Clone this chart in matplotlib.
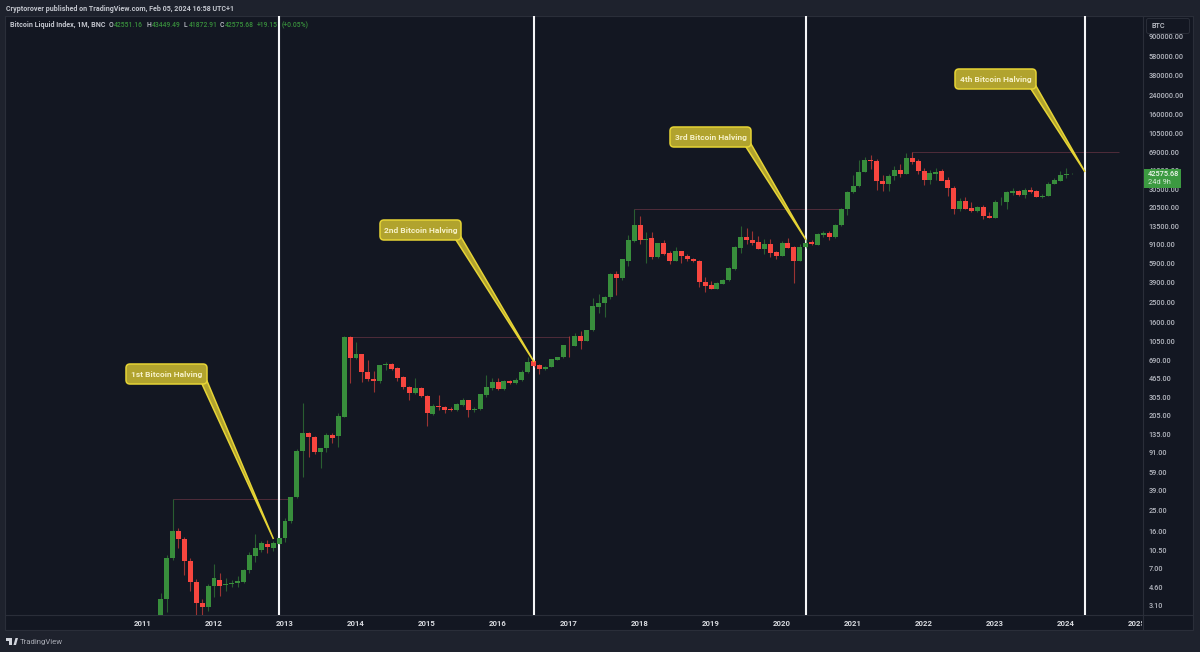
import numpy as np
import matplotlib
matplotlib.use("Agg")
import matplotlib.pyplot as plt
from matplotlib.patches import FancyBboxPatch, Polygon, Rectangle
from matplotlib.transforms import Bbox

plt.rcParams["font.family"] = ["Roboto", "DejaVu Sans"]

# monthly candles, Apr 2011 to Feb 2024
opens = [0.8, 3.5, 8.7, 16.0, 13.3, 8.2, 5.15, 3.25, 2.95,
         4.74, 5.4, 4.85, 4.95, 5.0, 5.15, 6.7, 9.2, 10.4, 12.0, 10.9, 12.0,
         13.5, 20, 33.5, 93, 139, 128, 91, 100, 131, 129, 199, 1163,
         732, 794, 537, 457, 441, 620, 636, 583, 474, 385, 333, 372,
         314, 211, 254, 244, 237, 229, 257, 285, 229, 237, 320, 375,
         430, 368, 437, 415, 448, 530, 676, 621, 565, 600, 700, 735,
         965, 948, 1183, 1059, 1340, 2259, 2432, 2790, 4656, 4227, 6252, 9700,
         13740, 9950, 10230, 6725, 9160, 7400, 6250, 7650, 6950, 6500, 6250, 3930,
         3640, 3340, 3755, 4050, 5180, 8300, 10620, 9860, 9500, 8090, 9100, 7560,
         6980, 9300, 8450, 6250, 8360, 9440, 8830, 11020, 11510, 10470, 13600, 19450,
         28300, 32300, 44670, 57800, 57000, 36640, 34300, 40600, 46350, 42730, 60400, 56500,
         45300, 37400, 42450, 45000, 37150, 31400, 19450, 23400, 19860, 18760, 20200, 16900,
         16180, 22700, 22700, 28100, 28900, 26700, 29800, 29200, 25350, 26100, 33800, 36640,
         41800, 42551.16]
highs = [4.06, 9.4, 32, 16.8, 14, 8.7, 5.5, 3.5, 4.9,
         7.6, 6.3, 5.6, 5.4, 5.9, 6.9, 9.9, 15, 12.8, 13, 12.6, 13.7,
         21, 34, 97, 266, 140, 129, 100, 137, 137, 215, 1170, 1170,
         1029, 800, 695, 540, 623, 665, 650, 600, 490, 390, 470, 380,
         320, 265, 320, 250, 245, 270, 300, 290, 245, 330, 500, 470,
         465, 445, 445, 465, 555, 748, 690, 630, 610, 715, 750, 972,
         1183, 1250, 1312, 1360, 2716, 2970, 2850, 4700, 4950, 6500, 11100, 19590,
         16750, 11700, 11700, 9300, 9860, 7800, 8430, 7750, 7300, 6600, 6320, 4300,
         4000, 3900, 4120, 5400, 8600, 13550, 12880, 11950, 10800, 10100, 10000, 7780,
         9600, 10370, 8700, 8950, 10000, 9800, 11430, 12130, 12000, 13950, 19800, 29000,
         41500, 57500, 61700, 64800, 59500, 41000, 42500, 50500, 52900, 67000, 69000, 59100,
         47900, 45800, 48200, 47400, 40000, 32400, 24700, 25200, 22700, 21000, 21400, 18300,
         23900, 25200, 29200, 31000, 29800, 31400, 31800, 30000, 27500, 35200, 38500, 45000,
         48000, 43449.49]
lows = [0.6, 2.67, 8.3, 10.9, 6, 4.2, 2.5, 2.5, 2.7,
        3.7, 3.8, 4.2, 4.6, 4.6, 5.0, 6.3, 8, 9.9, 9.7, 10.2, 11.9,
        12.4, 19, 33, 52, 82, 87, 64, 91, 112, 102, 195, 418,
        710, 431, 440, 345, 420, 555, 560, 440, 365, 287, 330, 305,
        162, 205, 232, 215, 225, 225, 252, 196, 222, 230, 305, 355,
        355, 360, 405, 410, 440, 525, 600, 510, 555, 592, 690, 730,
        738, 940, 887, 1050, 1330, 1950, 1811, 2700, 2924, 4100, 5600, 9500,
        8970, 5890, 6500, 6600, 7000, 5790, 6200, 5890, 6200, 6100, 3467, 3100,
        3300, 3320, 3730, 4000, 5100, 7350, 8970, 8800, 8000, 7230, 6700, 6540,
        6850, 8200, 3845, 6150, 8300, 8800, 8750, 10550, 9900, 10300, 13300, 17140,
        27670, 32000, 44300, 47000, 30000, 28800, 29300, 37300, 39600, 42500, 53200, 42000,
        32900, 34300, 37200, 37300, 26300, 17600, 18700, 19500, 18200, 18100, 15500, 16000,
        16000, 21400, 19600, 26900, 25800, 24800, 27800, 25300, 24900, 25900, 33700, 36500,
        38550, 41872.91]
closes = [3.5, 8.75, 16.0, 13.3, 8.2, 5.15, 3.25, 2.95, 4.74,
          5.6, 4.7, 4.95, 5.0, 5.2, 6.7, 9.3, 10.9, 12.2, 11.1, 12.2, 13.5,
          20, 33.5, 93, 139, 128, 91, 100, 131, 125, 203, 1163, 732,
          794, 537, 457, 440, 623, 636, 570, 464, 383, 333, 372, 314,
          216, 254, 244, 232, 229, 263, 285, 230, 237, 325, 380, 430,
          368, 437, 415, 448, 530, 665, 614, 570, 600, 706, 743, 969,
          960, 1183, 1059, 1349, 2296, 2432, 2818, 4656, 4227, 6442, 9863, 13740,
          9863, 10000, 6725, 9160, 7240, 6250, 7680, 6870, 6440, 6150, 3930, 3597,
          3340, 3785, 4075, 5270, 8450, 10620, 9860, 9300, 8090, 9100, 7350, 6980,
          9300, 8330, 6250, 8500, 9290, 8970, 11190, 11430, 10470, 13740, 19550, 28700,
          32600, 44670, 57800, 56500, 36390, 34000, 40600, 46350, 42450, 60400, 55300, 45000,
          37150, 43050, 44340, 36640, 30900, 19590, 23400, 19590, 18760, 20200, 16790, 16180,
          22850, 22850, 28300, 28900, 26700, 29800, 28700, 25350, 26300, 33800, 37150, 41500,
          42300, 42575.68]
first_month = 3  # months after Jan 2011

years = list(range(2011, 2026))
year_months = [(y - 2011) * 12 for y in years]

price_ticks = [900000, 580000, 380000, 240000, 160000, 105000, 69000, 46000, 30500,
               20500, 13500, 9100, 5900, 3900, 2500, 1600, 1050, 690, 465, 305, 205,
               135, 91, 59, 39, 25, 16, 10.5, 7, 4.6, 3.1]

halving_months = [23, 66, 112, 159.2]
halving_names = ["1st Bitcoin Halving", "2nd Bitcoin Halving", "3rd Bitcoin Halving", "4th Bitcoin Halving"]
halving_tip_month = [22.05, 66.1, 112.05, 159.2]
halving_tip_price = [13.3, 665, 9860, 44260]
halving_box_left = [126, 380, 670, 955]
halving_box_top = [364, 220, 127, 69]

# old highs: start month, end month, price
high_start = [5, 34.9, 83, 130]
high_end = [24.8, 72, 118, 165]
high_price = [32, 1163, 19590, 69000]

W, H = 1200, 652
BG = "#131722"
OUTER = "#1e222d"
BORDER = "#2a2e39"
GREEN = "#388e3c"
RED = "#f7463f"
LABEL = "#c3c6ce"

fig = plt.figure(figsize=(12, 6.52), dpi=100, facecolor=OUTER)

# panels behind everything, in pixels
back = fig.add_axes([0, 0, 1, 1], zorder=0)
back.set_xlim(0, W)
back.set_ylim(H, 0)
back.axis("off")
back.add_patch(Rectangle((5, 16), 1188, 614, fc=BG, ec=BORDER, lw=0.8))
back.plot([5, 1193], [615, 615], color=BORDER, lw=0.8)
back.plot([1143, 1143], [16, 630], color=BORDER, lw=0.8)

ax = fig.add_axes([5 / W, 1 - 615 / H, 1138 / W, 599 / H], zorder=1)
ax.patch.set_alpha(0)
ax.set_yscale("log")
ax.set_xlim(-23.32, 169.0)
ax.set_ylim(2.48, 1.39e6)
for s in ax.spines.values():
    s.set_visible(False)

o = np.array(opens, dtype=float)
h = np.array(highs, dtype=float)
l = np.array(lows, dtype=float)
c = np.array(closes, dtype=float)
months = first_month + np.arange(len(o))
colors = np.where(c >= o, GREEN, RED)

# halving lines sit under the candles
ax.vlines(halving_months, 2.48, 1.39e6, color="#f4f5f7", lw=1.5, zorder=1.5)

ax.vlines(months, l, h, colors=colors, lw=0.8, alpha=0.6, zorder=2)
ax.bar(months, np.abs(c - o), bottom=np.minimum(o, c), width=0.84, color=colors, lw=0, zorder=3)

# previous highs
ax.hlines(high_price, high_start, high_end, color="#4f2c3a", lw=0.7, zorder=1)

# axes
ax.set_xticks(year_months)
ax.set_xticklabels(years)
ax.tick_params(axis="x", length=0, pad=3.5, labelsize=5.6, labelcolor="#d9dbe0")
for lab in ax.get_xticklabels():
    lab.set_fontweight("bold")
    lab.set_clip_on(True)
    lab.set_clip_box(Bbox([[0, 0], [1142, H]]))
ax.yaxis.tick_right()
ax.set_yticks(price_ticks)
ax.set_yticklabels(["%.2f" % p for p in price_ticks])
ax.minorticks_off()
ax.tick_params(axis="y", length=0, pad=4.2, labelsize=5.3, labelcolor="#b2b5be")
for lab in ax.get_yticklabels():
    lab.set_fontweight("medium")

# overlay for callouts, header and tags, in pixels
top = fig.add_axes([0, 0, 1, 1], zorder=2)
top.set_xlim(0, W)
top.set_ylim(H, 0)
top.axis("off")
top.patch.set_alpha(0)

fig.canvas.draw()
GOLD = "#b1a32e"
EDGE = "#e6d435"
for name, mx, py, bx, by in zip(halving_names, halving_tip_month, halving_tip_price,
                                halving_box_left, halving_box_top):
    tip = top.transData.inverted().transform(ax.transData.transform((mx, py)))
    top.add_patch(Polygon([(bx + 76, by + 20), (bx + 81, by + 17), tuple(tip)], closed=True,
                          fc=GOLD, ec=EDGE, lw=1.1, joinstyle="miter", zorder=5))
    top.add_patch(FancyBboxPatch((bx + 3, by + 3), 75, 14, boxstyle="round,pad=3,rounding_size=4",
                                 fc=GOLD, ec=EDGE, lw=1.1, zorder=6))
    top.text(bx + 40.5, by + 10.2, name, color="#f6f1c8", fontsize=6.0, fontweight="bold",
             ha="center", va="center", zorder=7)

top.text(6, 9, "Cryptorover published on TradingView.com, Feb 05, 2024 16:58 UTC+1",
         color=LABEL, fontsize=5.1, fontweight="bold", va="center")
top.text(10.5, 25, "Bitcoin Liquid Index, 1M, BNC", color=LABEL, fontsize=5.1, fontweight="bold", va="center")
legend_parts = [(109, "O", LABEL), (114, "42551.16", GREEN), (146.7, "H", LABEL), (151.7, "43449.49", GREEN),
                (184, "L", LABEL), (188.5, "41872.91", GREEN), (220, "C", LABEL), (225, "42575.68", GREEN),
                (257, "+19.15", GREEN), (281.7, "(+0.05%)", GREEN)]
for x, txt, col in legend_parts:
    top.text(x, 25, txt, color=col, fontsize=4.9, fontweight="medium", va="center")

# symbol box and last price tag
top.add_patch(FancyBboxPatch((1147, 19), 42, 14, boxstyle="round,pad=0.5,rounding_size=2",
                             fc=BG, ec=BORDER, lw=0.7, zorder=6))
top.text(1151, 26, "BTC", color=LABEL, fontsize=5.2, fontweight="medium", va="center", zorder=7)
top.add_patch(Rectangle((1144, 169), 36.5, 18.5, fc="#3c9a41", ec="none", zorder=6))
top.text(1148, 174.5, "42575.68", color="#eef5ee", fontsize=5.3, fontweight="medium", va="center", zorder=7)
top.text(1148, 182.5, "24d 9h", color="#d8ead9", fontsize=5.3, va="center", zorder=7)

# TradingView mark
top.add_patch(Polygon([(6, 638), (12, 638), (12, 645), (9, 645), (9, 641), (6, 641)], fc="#d1d4dc", ec="none"))
top.add_patch(Polygon([(13.5, 645), (15.5, 638), (18, 638), (16, 645)], fc="#d1d4dc", ec="none"))
top.text(20, 642, "TradingView", color="#a8abb4", fontsize=5.6, va="center")

fig.savefig("out.png", dpi=100, facecolor=OUTER)
